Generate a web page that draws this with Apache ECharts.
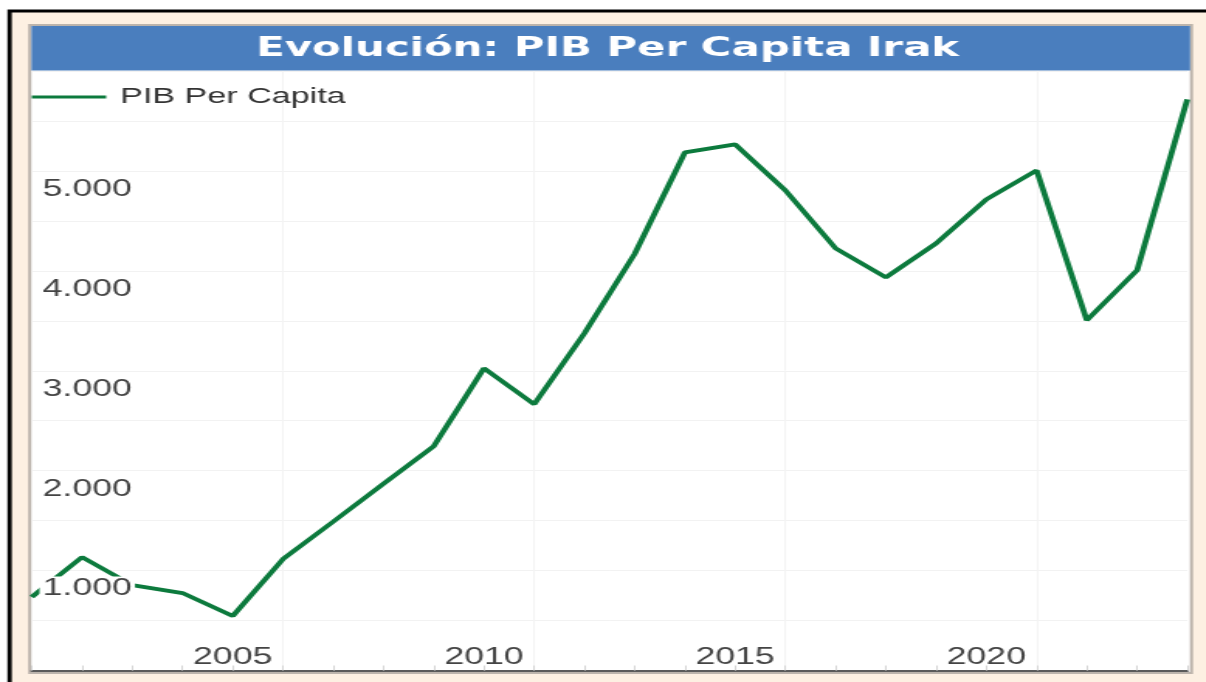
<!DOCTYPE html>
<html>
<head>
<meta charset="utf-8">
<title>Evolución: PIB Per Capita Irak</title>
<script src="https://cdn.jsdelivr.net/npm/echarts@6/dist/echarts.min.js"></script>
<style>
  html, body { margin: 0; padding: 0; background: #fff; overflow: hidden; }
  /* the reference picture is stretched sideways, so the chart is drawn narrow and widened */
  #chart { width: 778px; height: 682px; transform: scaleX(1.55); transform-origin: 0 0; }
</style>
</head>
<body>
<div id="chart"></div>
<script>
// datos
const years = ['2001', '2002', '2003', '2004', '2005', '2006', '2007', '2008', '2009', '2010', '2011', '2012',
  '2013', '2014', '2015', '2016', '2017', '2018', '2019', '2020', '2021', '2022', '2023', '2024'];
const gdpPerCapita = [735, 1135, 855, 775, 545, 1115, 1490, 1870, 2245, 3025, 2665, 3375,
  4170, 5185, 5265, 4805, 4225, 3935, 4275, 4715, 5005, 3505, 4005, 5715];
const yLabelValues = [1000, 2000, 3000, 4000, 5000];
const xLabelYears = [2005, 2010, 2015, 2020];
const xGridYears = [2006, 2011, 2016, 2021];

const green = '#0c7a3d';

function fmt(v) {
  return String(v).replace(/\B(?=(\d{3})+(?!\d))/g, '.');
}

let myChart = echarts.init(document.getElementById('chart'));
myChart.setOption({
  backgroundColor: '#fff',
  animation: false,
  graphic: [
    { type: 'rect', z: -10, shape: { x: 4.8, y: 9.5, width: 800, height: 700 }, style: { fill: '#000' } },
    { type: 'rect', z: -9, shape: { x: 7.6, y: 12.5, width: 800, height: 700 }, style: { fill: '#fdf0e2' } },
    { type: 'rect', z: -8, shape: { x: 19.2, y: 25, width: 749.5, height: 648 }, style: { fill: '#fff', stroke: '#bcb4ac', lineWidth: 2 } },
    { type: 'rect', z: -7, shape: { x: 20.3, y: 26, width: 747.5, height: 44.5 }, style: { fill: '#4a7ebe' } }
  ],
  title: {
    text: 'Evolución: PIB Per Capita Irak',
    left: 392,
    top: 35,
    textAlign: 'center',
    padding: 0,
    textStyle: { color: '#fff', fontSize: 27, fontWeight: 'bold', fontFamily: 'DejaVu Sans' }
  },
  legend: {
    data: ['PIB Per Capita'],
    left: 20.5,
    top: 86,
    padding: 0,
    icon: 'rect',
    itemWidth: 48,
    itemHeight: 3,
    textStyle: { color: '#333', fontSize: 22, fontFamily: 'Liberation Sans', padding: [0, 0, 0, 4] }
  },
  grid: { left: 20.5, right: 12, top: 71, bottom: 11.5 },
  xAxis: {
    type: 'category',
    data: years,
    boundaryGap: false,
    axisLine: { lineStyle: { color: '#5a5a5a', width: 2 } },
    axisTick: { inside: true, length: 5, interval: 0, lineStyle: { color: '#d6d6d6' } },
    axisLabel: {
      inside: true,
      margin: 1,
      interval: (i, v) => xLabelYears.includes(Number(v)),
      color: '#444',
      fontSize: 23,
      fontFamily: 'Liberation Sans'
    },
    splitLine: {
      show: true,
      interval: (i, v) => xGridYears.includes(Number(v)),
      lineStyle: { color: '#f4f4f4', width: 1 }
    }
  },
  yAxis: [
    {
      type: 'value',
      min: 0,
      max: 6000,
      interval: 500,
      axisLine: { show: false },
      axisTick: { show: false },
      axisLabel: { show: false },
      splitLine: { lineStyle: { color: '#f2f2f2' } }
    },
    {
      type: 'value',
      position: 'left',
      min: 0,
      max: 6000,
      interval: 1000,
      z: 5,
      axisLine: { show: false },
      axisTick: { show: false },
      splitLine: { show: false },
      axisLabel: {
        inside: true,
        margin: 5,
        verticalAlign: 'top',
        padding: [6, 0, 0, 0],
        formatter: v => yLabelValues.includes(v) ? '{b|' + fmt(v) + '}' : '',
        rich: {
          b: { backgroundColor: '#fff', padding: [1, 2, 1, 2], fontSize: 23, color: '#444', fontFamily: 'Liberation Sans' }
        }
      }
    }
  ],
  series: [
    {
      name: 'PIB Per Capita',
      type: 'line',
      data: gdpPerCapita,
      yAxisIndex: 0,
      symbol: 'none',
      itemStyle: { color: green },
      lineStyle: { color: green, width: 3.8 }
    }
  ]
});
</script>
</body>
</html>
